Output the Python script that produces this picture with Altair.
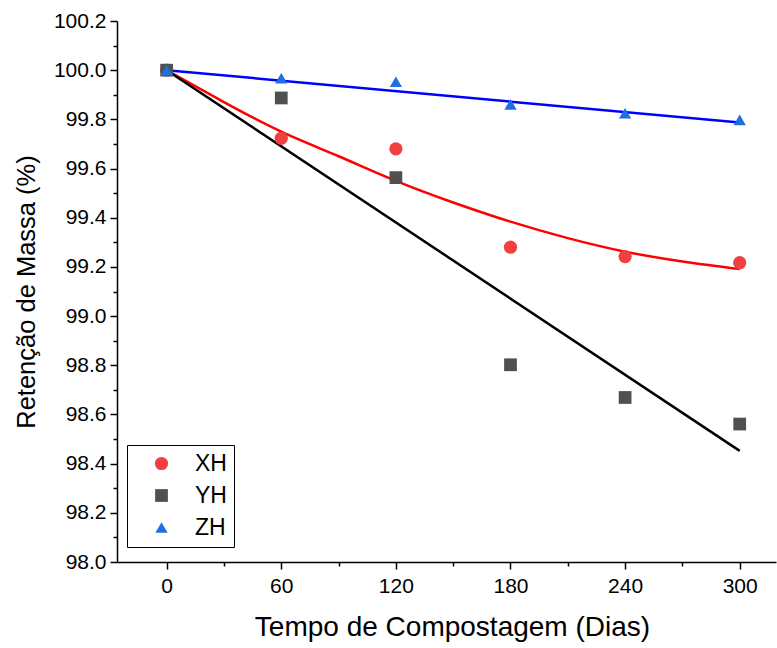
import altair as alt
import pandas as pd

days = [0, 60, 120, 180, 240, 300]
xh = [100.0, 99.723, 99.680, 99.280, 99.242, 99.217]
yh = [100.0, 99.887, 99.563, 98.802, 98.669, 98.561]
zh = [100.0, 99.967, 99.953, 99.861, 99.825, 99.798]

# fitted curves
fit_x_days = [0, 30, 60, 90, 120, 150, 180, 210, 240, 270, 300]
fit_xh = [100.0, 99.87, 99.75, 99.65, 99.55, 99.462, 99.384, 99.317, 99.262, 99.222, 99.191]
fit_line_days = [0, 300]
fit_yh = [100.0, 98.452]
fit_zh = [100.0, 99.787]

series = ["XH", "YH", "ZH"]
point_colors = ["#F04040", "#505050", "#1E6FE0"]
line_colors = ["#FF0000", "#000000", "#0000FF"]
shapes = ["circle", "square", "triangle-up"]
marker_sizes = [175, 150, 230]

x_major = [0, 60, 120, 180, 240, 300]
x_minor = [30, 90, 150, 210, 270]
y_major = [98.0, 98.2, 98.4, 98.6, 98.8, 99.0, 99.2, 99.4, 99.6, 99.8, 100.0, 100.2]
y_minor = [98.1, 98.3, 98.5, 98.7, 98.9, 99.1, 99.3, 99.5, 99.7, 99.9, 100.1]

pts = pd.DataFrame(
    [{"d": d, "v": v, "s": "XH"} for d, v in zip(days, xh)]
    + [{"d": d, "v": v, "s": "YH"} for d, v in zip(days, yh)]
    + [{"d": d, "v": v, "s": "ZH"} for d, v in zip(days, zh)]
)
fits = pd.DataFrame(
    [{"d": d, "v": v, "s": "XH"} for d, v in zip(fit_x_days, fit_xh)]
    + [{"d": d, "v": v, "s": "YH"} for d, v in zip(fit_line_days, fit_yh)]
    + [{"d": d, "v": v, "s": "ZH"} for d, v in zip(fit_line_days, fit_zh)]
)

xscale = alt.Scale(domain=[-26, 319], nice=False, zero=False)
yscale = alt.Scale(domain=[98.0, 100.2], nice=False, zero=False)

font = "Liberation Sans"
common = dict(
    grid=False, domainColor="black", domainWidth=1.5, tickColor="black", tickWidth=1.5,
    labelFont=font, labelFontSize=21, labelColor="black",
    titleFont=font, titleColor="black", titleFontWeight="normal",
)

x_axis = alt.Axis(
    values=x_major, title="Tempo de Compostagem (Dias)", orient="bottom",
    tickSize=7, labelPadding=6, titlePadding=17, titleFontSize=28, titleX=335, **common,
)
y_axis = alt.Axis(
    values=y_major, format=".1f", title="Retenção de Massa (%)", orient="left",
    tickSize=7, labelPadding=4, titlePadding=14, titleFontSize=25.5, **common,
)

lines = alt.Chart(fits).mark_line(strokeWidth=2.5, interpolate="natural").encode(
    x=alt.X("d:Q", scale=xscale, axis=x_axis),
    y=alt.Y("v:Q", scale=yscale, axis=y_axis),
    color=alt.Color("s:N", scale=alt.Scale(domain=series, range=line_colors), legend=None),
    detail="s:N",
)

points = alt.Chart(pts).mark_point(filled=True, opacity=1).encode(
    x=alt.X("d:Q", scale=xscale, axis=None),
    y=alt.Y("v:Q", scale=yscale, axis=None),
    color=alt.Color(
        "s:N",
        scale=alt.Scale(domain=series, range=point_colors),
        legend=alt.Legend(
            title=None, orient="none", legendX=10, legendY=424,
            strokeColor="black", padding=7,
            labelFontSize=23, labelFont=font, labelColor="black", symbolSize=220,
            rowPadding=8, labelOffset=22, symbolOffset=16, symbolStrokeWidth=0,
            fillColor="white",
        ),
    ),
    shape=alt.Shape("s:N", scale=alt.Scale(domain=series, range=shapes), legend=None),
    size=alt.Size("s:N", scale=alt.Scale(domain=series, range=marker_sizes), legend=None),
)

minor_df = pd.DataFrame({"d": [0], "v": [100.0]})
minor_common = dict(labels=False, title=None, domain=False, grid=False, tickSize=4,
                    tickColor="black", tickWidth=1.5)
minor = alt.Chart(minor_df).mark_point(opacity=0).encode(
    x=alt.X("d:Q", scale=xscale, axis=alt.Axis(values=x_minor, orient="bottom", **minor_common)),
    y=alt.Y("v:Q", scale=yscale, axis=alt.Axis(values=y_minor, orient="left", **minor_common)),
)

chart = alt.layer(lines, minor, points).resolve_scale(
    color="independent", shape="independent", size="independent"
).resolve_axis(x="independent", y="independent").properties(
    width=659, height=541,
    background="white",
    autosize=alt.AutoSizeParams(type="none"),
    padding={"left": 117, "top": 21, "right": 1, "bottom": 86},
).configure_view(stroke=None)

chart.save("out.html", embed_options={"renderer": "svg", "actions": False})
